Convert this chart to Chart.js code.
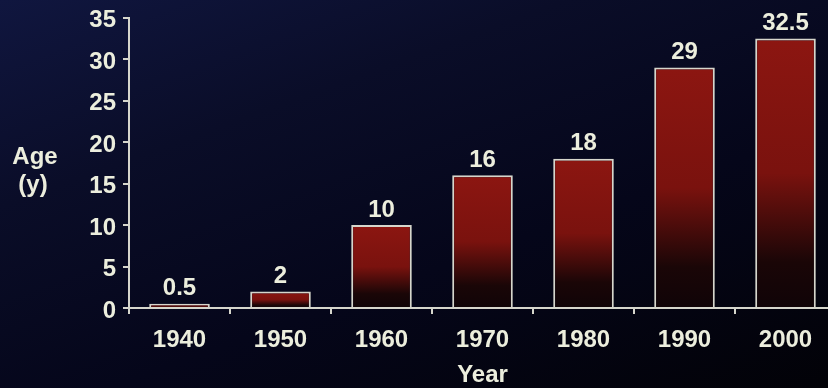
<!DOCTYPE html>
<html>
<head>
<meta charset="utf-8">
<title>Age by year</title>
<script src="https://cdn.jsdelivr.net/npm/chart.js@4/dist/chart.umd.min.js"></script>
<style>
  html, body { margin: 0; padding: 0; }
  body {
    width: 828px; height: 388px; overflow: hidden;
    background: linear-gradient(160deg, #10163f 0%, #0a0d28 30%, #05061a 62%, #020207 100%);
  }
  #wrap { width: 828px; height: 388px; overflow: hidden; position: relative; }
  canvas { display: block; }
</style>
</head>
<body>
<div id="wrap"><canvas id="ageChart" width="840" height="388"></canvas></div>
<script>
// data
const years = ['1940', '1950', '1960', '1970', '1980', '1990', '2000'];
const ages = [0.5, 2, 10, 16, 18, 29, 32.5];
const yMax = 35;
const yStep = 5;

const ink = '#eceedd';
const lineColor = '#d6d6cc';
const font = { family: '"Liberation Sans", Arial, sans-serif', size: 24, weight: 'bold' };

// red bar, fading to black near the base of each bar
function barFill(ctx) {
  const chart = ctx.chart;
  const y = chart.scales.y;
  if (ctx.type !== 'data' || !y) return '#8a1510';
  const top = y.getPixelForValue(ctx.raw);
  const base = y.getPixelForValue(0);
  if (!(base - top > 1)) return '#8a1510';
  const g = chart.ctx.createLinearGradient(0, top, 0, base);
  g.addColorStop(0, '#8c1611');
  g.addColorStop(0.5, '#7a120e');
  g.addColorStop(0.83, '#1a0607');
  g.addColorStop(1, '#100407');
  return g;
}

// values written above each bar
const valueLabels = {
  id: 'valueLabels',
  afterDatasetsDraw(chart) {
    const c = chart.ctx;
    const meta = chart.getDatasetMeta(0);
    c.save();
    c.fillStyle = ink;
    c.font = `${font.weight} ${font.size}px ${font.family}`;
    c.textAlign = 'center';
    c.textBaseline = 'middle';
    meta.data.forEach((bar, i) => {
      c.fillText(String(ages[i]), bar.x, bar.y - 15);
    });
    c.restore();
  }
};

// horizontal y-axis caption on the left
const ageTitle = {
  id: 'ageTitle',
  afterDraw(chart) {
    const c = chart.ctx;
    c.save();
    c.fillStyle = ink;
    c.font = `${font.weight} ${font.size}px ${font.family}`;
    c.textAlign = 'center';
    c.textBaseline = 'middle';
    c.fillText('Age', 35, 157);
    c.fillText('(y)', 33, 185);
    c.restore();
  }
};

new Chart(document.getElementById('ageChart'), {
  type: 'bar',
  data: {
    labels: years,
    datasets: [{
      data: ages,
      backgroundColor: barFill,
      borderColor: lineColor,
      borderWidth: 2,
      categoryPercentage: 1,
      barPercentage: 0.6
    }]
  },
  options: {
    responsive: false,
    animation: false,
    layout: { padding: { top: 15, right: 4, left: 0, bottom: 0 } },
    plugins: {
      legend: { display: false },
      tooltip: { enabled: false }
    },
    scales: {
      x: {
        grid: {
          display: true,
          drawOnChartArea: false,
          offset: true,
          color: lineColor,
          lineWidth: 2,
          tickLength: 6
        },
        border: { color: lineColor, width: 2 },
        ticks: { color: ink, font: font, padding: 12, maxRotation: 0 },
        title: { display: true, text: 'Year', color: ink, font: font, padding: { top: 0, bottom: -2 } },
        afterFit(scale) { scale.height = 80; }
      },
      y: {
        min: 0,
        max: yMax,
        grid: {
          drawOnChartArea: false,
          color: lineColor,
          lineWidth: 2,
          tickLength: 6
        },
        border: { color: lineColor, width: 2 },
        ticks: { stepSize: yStep, color: ink, font: { ...font, lineHeight: 0.9 }, padding: 7, labelOffset: 3 },
        afterFit(scale) { scale.width = 129; }
      }
    }
  },
  plugins: [valueLabels, ageTitle]
});
</script>
</body>
</html>
